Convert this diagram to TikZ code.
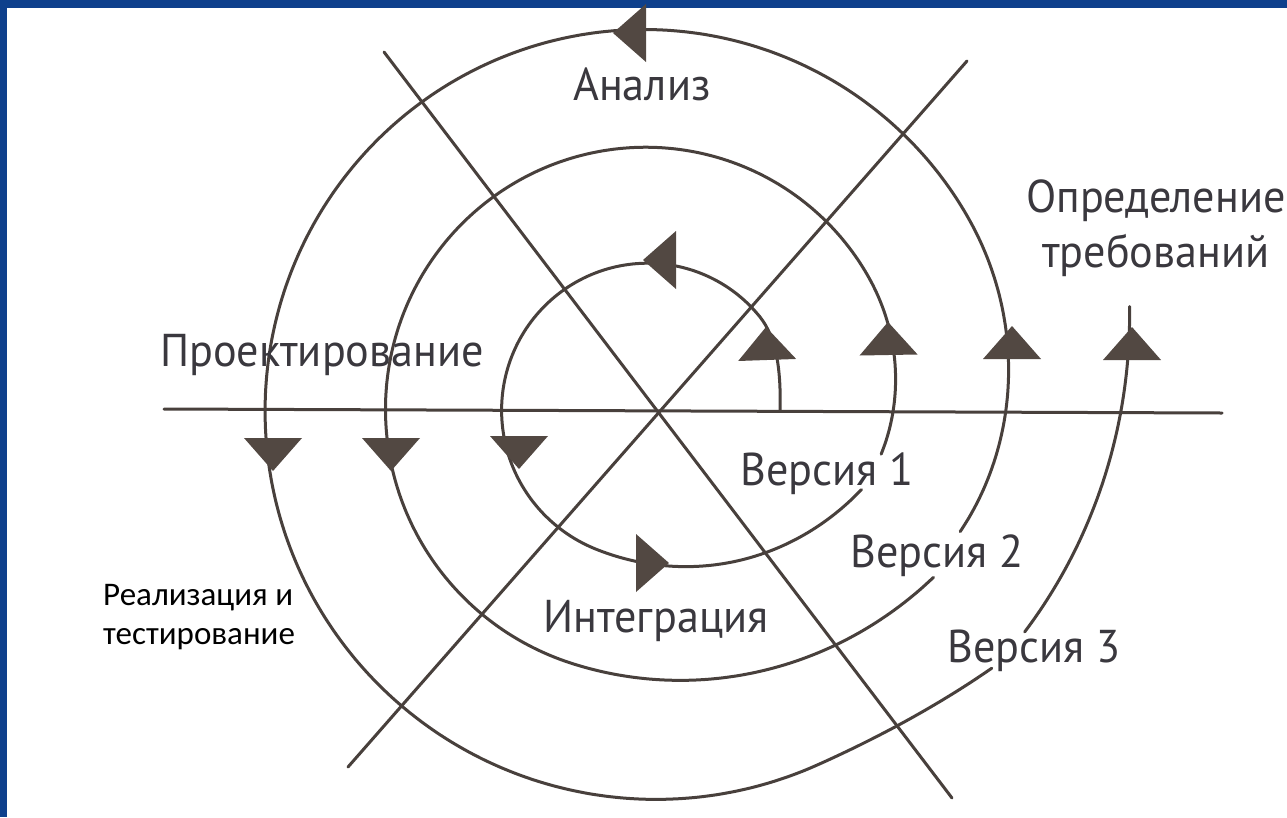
\documentclass[tikz,border=0pt]{standalone}
\usepackage{fontspec}
\newfontfamily\diagfont{PT Sans}[FakeStretch=0.96]
\newfontfamily\slidefont{Carlito}
\definecolor{bluebg}{RGB}{14,64,140}
\definecolor{linecol}{RGB}{72,64,60}
\definecolor{arrcol}{RGB}{82,72,66}
\definecolor{txtcol}{RGB}{58,56,62}
\newcommand\arrtri[3]{\fill[arrcol,shift={(#1,#2)},rotate=#3] (0,0) -- (-33,29) -- (-33,-29) -- cycle;}
\tikzset{
  axisline/.style={draw=linecol, line width=3pt, line cap=round},
  spiral/.style={draw=linecol, line width=3pt, line cap=round, line join=round},
  lbl/.style={text=txtcol, font=\diagfont\fontsize{46}{55}\selectfont, inner sep=0pt, anchor=base},
  slidelbl/.style={text=black, font=\slidefont\fontsize{33}{39}\selectfont, inner sep=0pt, align=left}
}
\begin{document}
\begin{tikzpicture}[x=1pt,y=-1pt]
\useasboundingbox (0,0) rectangle (1287,817);
\fill[bluebg] (0,0) rectangle (1287,817);
\fill[white] (7,8) rectangle (1287,817);

% axes
\coordinate (A1) at (384,52);  \coordinate (A2) at (952,798);
\coordinate (B1) at (967,61);  \coordinate (B2) at (348,767);
\coordinate (H1) at (164,409); \coordinate (H2) at (1222,413);
\draw[axisline] (A1) -- (A2);
\draw[axisline] (B1) -- (B2);
\draw[axisline] (H1) -- (H2);

% loop 1 (inner)
\coordinate (s1) at (780,411);
\draw[spiral] (s1) .. controls (781,375) and (778,339) .. (759.4,316.2)
  -- plot[domain=40:338.9, samples=90, smooth, variable=\t]
  ({650+(143+0.04*(\t-45)+0.00889*(max(0,\t-249))^2)*cos(\t)},
   {408-(143+0.04*(\t-45)+0.00889*(max(0,\t-249))^2)*sin(\t)});
% loop 2
\draw[spiral] plot[domain=-12:328.7, samples=110, smooth, variable=\t]
  ({650+(251+0.075*\t-0.0078*(max(0,30-\t))^2+0.0098*(max(0,\t-253))^2)*cos(\t)},
   {405-(251+0.075*\t-0.0078*(max(0,30-\t))^2+0.0098*(max(0,\t-253))^2)*sin(\t)});
% loop 3 (outer)
\draw[spiral] plot[domain=-22.2:322.4, samples=130, smooth, variable=\t]
  ({650+(366+0.105*\t-0.0105*(max(0,30-\t))^2+0.042*(max(0,\t-295))^2)*cos(\t)},
   {405-(366+0.105*\t-0.0105*(max(0,30-\t))^2+0.042*(max(0,\t-295))^2)*sin(\t)});
% loop 4 (start of next turn)
\draw[spiral] plot[domain=-31.2:11.6, samples=30, smooth, variable=\t]
  ({650+(472+1.4*\t+0.01*\t*\t)*cos(\t)},
   {405-(472+1.4*\t+0.01*\t*\t)*sin(\t)});

% arrowheads
\arrtri{766}{327}{92}
\arrtri{643}{260}{180}
\arrtri{519}{469}{270}
\arrtri{669}{563}{0}
\arrtri{888}{322}{91}
\arrtri{391}{471}{270}
\arrtri{1012}{326}{90}
\arrtri{613}{33}{180}
\arrtri{273}{471}{270}
\arrtri{1132}{327}{90}

% labels
\node[lbl] (analiz) at (642,100) {Анализ};
\node[lbl, align=center, anchor=center] (treb) at (1156,228) {Определение\\требований};
\node[lbl] (proekt) at (322,366) {Проектирование};
\node[lbl] (v1) at (827,485) {Версия 1};
\node[lbl] (v2) at (937,567) {Версия 2};
\node[lbl] (v3) at (1034,662) {Версия 3};
\node[lbl] (integr) at (656,632) {Интеграция};
\node[slidelbl, anchor=north west] (real) at (103,584) {Реализация и\\тестирование};
\end{tikzpicture}
\end{document}
